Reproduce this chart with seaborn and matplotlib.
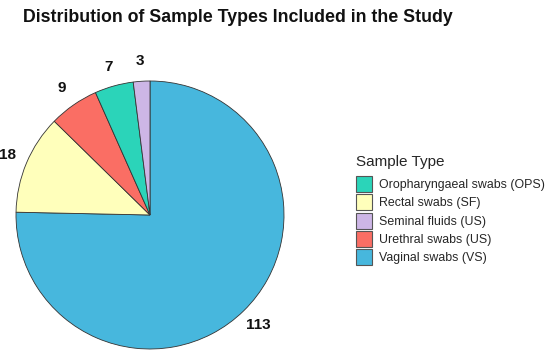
import matplotlib
matplotlib.use("Agg")
import matplotlib.pyplot as plt
import seaborn as sns
import numpy as np
from matplotlib.patches import Patch, Rectangle
from matplotlib.legend_handler import HandlerPatch

# data, in drawing order (clockwise from 12 o'clock)
sample_types = ["Vaginal swabs (VS)", "Rectal swabs (SF)", "Urethral swabs (US)",
                "Oropharyngaeal swabs (OPS)", "Seminal fluids (US)"]
counts = [113, 18, 9, 7, 3]
colors = ["#47b7dd", "#ffffbb", "#fa6e64", "#2bd4b9", "#cdb6e6"]

# legend is alphabetical
legend_order = sorted(sample_types)


class SquareKey(HandlerPatch):
    # fixed-size square key, centred in the handle box
    def create_artists(self, legend, orig_handle, xdescent, ydescent,
                       width, height, fontsize, trans):
        size = 11.6  # points
        cy = height / 2 - ydescent
        cx = width / 2 - xdescent
        p = Rectangle((cx - size / 2, cy - size / 2), size, size)
        self.update_prop(p, orig_handle, legend)
        p.set_transform(trans)
        return [p]


sns.set_theme(style="white")
plt.rcParams['font.family'] = ['Liberation Sans', 'DejaVu Sans']

fig = plt.figure(figsize=(5.5, 3.58), dpi=100)
ax = fig.add_axes([16 / 550, 9 / 358, 268 / 550, 268 / 358])

pal = sns.color_palette(colors)
wedges, _ = ax.pie(counts, colors=pal, startangle=90, counterclock=False,
                   radius=1.0, wedgeprops={"edgecolor": "#333333", "linewidth": 0.6})
ax.set_xlim(-1, 1)
ax.set_ylim(-1, 1)
ax.set_aspect("equal")
ax.axis("off")

# count labels just outside each slice
for w, c in zip(wedges, counts):
    ang = np.deg2rad((w.theta1 + w.theta2) / 2)
    r = 1.15
    ax.text(r * np.cos(ang), r * np.sin(ang), str(c), ha="center", va="center",
            fontsize=11, fontweight="bold", color="#111111", clip_on=False)

fig.text(23 / 550, 1 - 17 / 358, "Distribution of Sample Types Included in the Study",
         fontsize=12.8, fontweight="bold", ha="left", va="center", color="#111111")

handles = [Patch(facecolor=colors[sample_types.index(s)], edgecolor="#555555", linewidth=0.8)
           for s in legend_order]
leg = fig.legend(handles, legend_order, title="Sample Type", loc="upper left",
                 bbox_to_anchor=(351 / 550, 1 - 150 / 358), frameon=False,
                 fontsize=8.9, title_fontsize=11, handlelength=1.3, handleheight=1.3,
                 handletextpad=0.55, labelspacing=0.36, borderaxespad=0,
                 handler_map={Patch: SquareKey()})
leg._legend_box.align = "left"
leg._legend_box.sep = 6

fig.savefig("out.png", dpi=100)
